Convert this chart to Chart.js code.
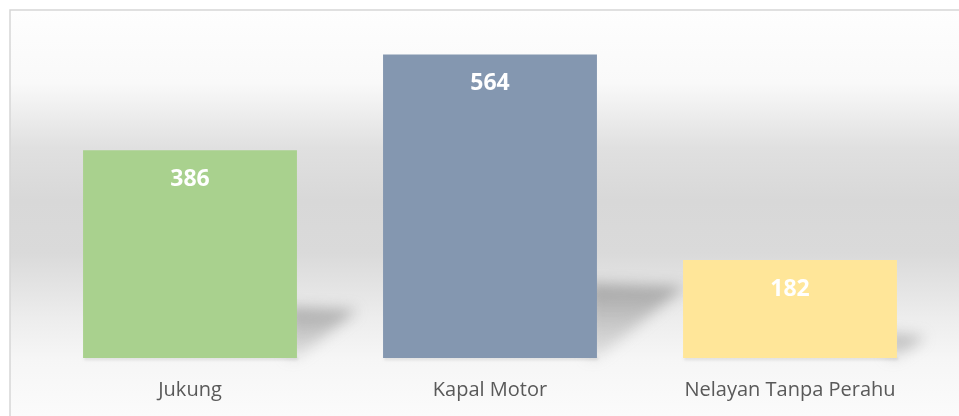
<!DOCTYPE html>
<html>
<head>
<meta charset="utf-8">
<script src="https://cdn.jsdelivr.net/npm/chart.js@4/dist/chart.umd.min.js"></script>
<style>
  html, body { margin: 0; padding: 0; background: #ffffff; }
  #wrap { width: 959px; height: 416px; position: relative; overflow: hidden; }
</style>
</head>
<body>
<div id="wrap"><canvas id="fleetChart" width="959" height="416"></canvas></div>
<script>
const categories = ['Jukung', 'Kapal Motor', 'Nelayan Tanpa Perahu'];
const counts = [386, 564, 182];
const barColors = ['#a9d18e', '#8497b0', '#ffe699'];

// gradient wall + thin frame behind everything
const wallPlugin = {
  id: 'wall',
  beforeDraw(chart) {
    const ctx = chart.ctx;
    const w = chart.width, h = chart.height;
    ctx.save();
    ctx.fillStyle = '#ffffff';
    ctx.fillRect(0, 0, w, h);
    const g = ctx.createLinearGradient(0, 10, 0, h);
    g.addColorStop(0.00, '#fefefe');
    g.addColorStop(0.18, '#f9f9f9');
    g.addColorStop(0.34, '#e0e0e0');
    g.addColorStop(0.47, '#d8d8d8');
    g.addColorStop(0.60, '#dadada');
    g.addColorStop(0.76, '#ededed');
    g.addColorStop(0.86, '#f6f6f6');
    g.addColorStop(1.00, '#fbfbfb');
    ctx.fillStyle = g;
    ctx.fillRect(10, 10, w - 10, h - 10);
    ctx.strokeStyle = '#d6d6d6';
    ctx.lineWidth = 1.5;
    ctx.beginPath();
    ctx.moveTo(10, h);
    ctx.lineTo(10, 10);
    ctx.lineTo(w, 10);
    ctx.stroke();
    ctx.restore();
  }
};

// slanted floor shadows cast to the right of each bar
const shadowPlugin = {
  id: 'barShadows',
  beforeDatasetsDraw(chart) {
    const ctx = chart.ctx;
    const meta = chart.getDatasetMeta(0);
    meta.data.forEach((bar) => {
      const p = bar.getProps(['x', 'y', 'base', 'width'], true);
      const right = p.x + p.width / 2;
      const left = p.x - p.width / 2;
      const hgt = p.base - p.y;
      const top = p.base - hgt * 0.245;
      const reach = hgt * 0.29;
      ctx.save();
      ctx.filter = 'blur(7px)';
      const g = ctx.createLinearGradient(0, top, 0, p.base);
      g.addColorStop(0, 'rgba(110,110,110,0.55)');
      g.addColorStop(1, 'rgba(150,150,150,0.2)');
      ctx.fillStyle = g;
      ctx.beginPath();
      ctx.moveTo(right - 10, top);
      ctx.lineTo(right + reach, top + 3);
      ctx.lineTo(right, p.base);
      ctx.lineTo(right - 10, p.base);
      ctx.closePath();
      ctx.fill();
      // faint contact shadow along the base
      ctx.filter = 'blur(1.5px)';
      ctx.fillStyle = 'rgba(0,0,0,0.10)';
      ctx.fillRect(left + 1, p.base - 1, p.width, 3);
      ctx.restore();
    });
  }
};

// value printed inside the top of each bar
const valuePlugin = {
  id: 'barValues',
  afterDatasetsDraw(chart) {
    const ctx = chart.ctx;
    const meta = chart.getDatasetMeta(0);
    ctx.save();
    ctx.font = 'bold 23px "Open Sans"';
    ctx.fillStyle = '#ffffff';
    ctx.textAlign = 'center';
    ctx.textBaseline = 'middle';
    meta.data.forEach((bar, i) => {
      ctx.fillText(String(counts[i]), bar.x, bar.y + 29);
    });
    ctx.restore();
  }
};

new Chart(document.getElementById('fleetChart').getContext('2d'), {
  type: 'bar',
  data: {
    labels: categories,
    datasets: [{
      data: counts,
      backgroundColor: barColors,
      borderWidth: 0,
      barPercentage: 0.713,
      categoryPercentage: 1
    }]
  },
  options: {
    responsive: false,
    animation: false,
    devicePixelRatio: 1,
    layout: { padding: { top: 35, left: 40, right: 19, bottom: 0 } },
    plugins: {
      legend: { display: false },
      tooltip: { enabled: false },
      title: { display: false }
    },
    scales: {
      x: {
        grid: { display: false },
        border: { display: false },
        ticks: {
          color: '#595959',
          padding: 12,
          font: { family: '"Open Sans"', size: 20 }
        },
        afterFit(scale) { scale.height = 58; }
      },
      y: {
        display: false,
        min: 0,
        max: 600
      }
    }
  },
  plugins: [wallPlugin, shadowPlugin, valuePlugin]
});
</script>
</body>
</html>
